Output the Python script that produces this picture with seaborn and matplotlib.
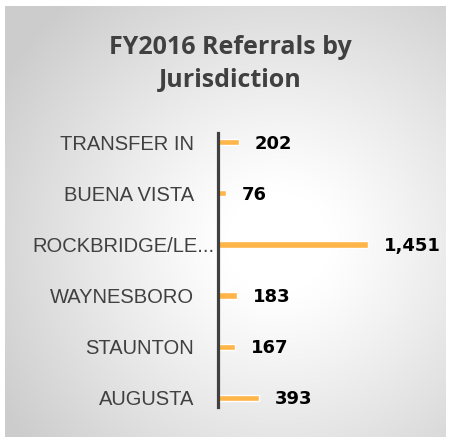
import numpy as np
import pandas as pd
import matplotlib
matplotlib.use("Agg")
import matplotlib.pyplot as plt
import matplotlib.transforms as mtrans
import seaborn as sns

categories = ["TRANSFER IN", "BUENA VISTA", "ROCKBRIDGE/LE...", "WAYNESBORO", "STAUNTON", "AUGUSTA"]
values = [202, 76, 1451, 183, 167, 393]
title = "FY2016 Referrals by\nJurisdiction"

sns.set_theme(style="white")
plt.rcParams["font.family"] = ["Liberation Sans", "DejaVu Sans"]

W, H = 449, 437
fig = plt.figure(figsize=(W / 100, H / 100), dpi=100)
fig.patch.set_facecolor("white")

# background radial gradient panel
bg = fig.add_axes([5 / W, 0, 441 / W, 1 - 6 / H])
bg.set_axis_off()
gx = np.linspace(0, 1, 400)
gy = np.linspace(0, 1, 400)
X, Y = np.meshgrid(gx, gy)
r = np.sqrt(((X - 0.62) / 1.0) ** 2 + ((Y - 0.55) / 1.0) ** 2)
t = np.clip((r - 0.12) / 0.62, 0, 1) ** 1.1
c0 = np.array([1.0, 1.0, 1.0])
c1 = np.array([0.80, 0.80, 0.80])
img = c0[None, None, :] * (1 - t[..., None]) + c1[None, None, :] * t[..., None]
bg.imshow(img, extent=[0, 1, 0, 1], origin="upper", aspect="auto")
bg.set_xlim(0, 1)
bg.set_ylim(0, 1)

# main axes
left_px, right_px, top_px, bot_px = 218, 440, 133, 407
ax = fig.add_axes([left_px / W, 1 - bot_px / H, (right_px - left_px) / W, (bot_px - top_px) / H])
ax.patch.set_alpha(0)

df = pd.DataFrame({"cat": categories, "val": values})
sns.barplot(data=df, x="val", y="cat", color="#FFB547", width=0.12, saturation=1, ax=ax, orient="h")

xmax = 1451 * (right_px - left_px) / 150
ax.set_xlim(0, xmax)
ax.set_ylim(5.18, -0.18)
ax.set_xlabel("")
ax.set_ylabel("")
ax.set_xticks([])
for s in ["top", "right", "bottom"]:
    ax.spines[s].set_visible(False)
ax.spines["left"].set_color("#404040")
ax.spines["left"].set_linewidth(2.3)
ax.tick_params(axis="y", length=0, pad=17, labelsize=14.5, labelcolor="#404040")

for lab in ax.get_yticklabels():
    if lab.get_text().startswith("ROCKBRIDGE"):
        lab.set_transform(lab.get_transform() + mtrans.ScaledTranslation(20 / 100, 0, fig.dpi_scale_trans))

for i, v in enumerate(values):
    ax.annotate(f"{v:,}", xy=(v, i), xytext=(11.5, -1), textcoords="offset points",
                ha="left", va="center", fontsize=13, fontweight="bold", color="black",
                family=["DejaVu Sans"])

fig.text(230 / W, 1 - 64 / H, title, ha="center", va="center", fontsize=18,
         fontweight="bold", color="#404040", linespacing=1.4, family=["Open Sans", "DejaVu Sans"])

fig.savefig("out.png", dpi=100)
